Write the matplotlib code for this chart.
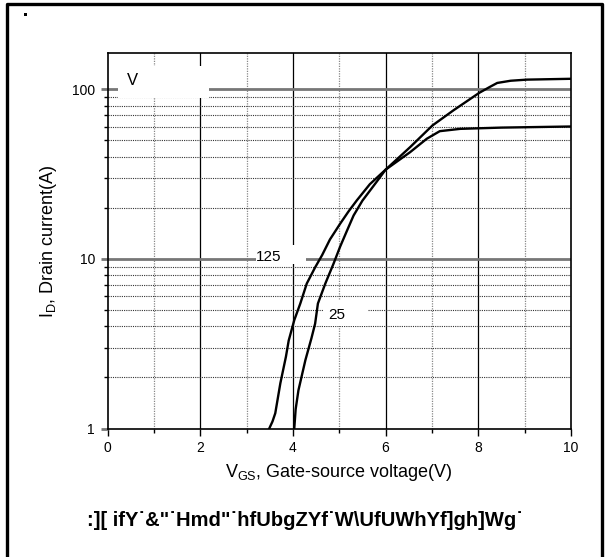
import numpy as np
import matplotlib
matplotlib.use('Agg')
import matplotlib.pyplot as plt
from matplotlib.patches import Rectangle
from matplotlib.lines import Line2D
from matplotlib.ticker import FixedLocator, NullFormatter

plt.rcParams['font.family'] = ['Liberation Sans', 'DejaVu Sans']
plt.rcParams['mathtext.fontset'] = 'custom'
plt.rcParams['mathtext.rm'] = 'Liberation Sans'
plt.rcParams['mathtext.it'] = 'Liberation Sans'

# transfer curves (Vgs in V, Id in A)
vgs_125 = [3.49, 3.56, 3.62, 3.73, 3.85, 3.91, 4.03, 4.16, 4.30, 4.48, 4.63, 4.80, 5.02, 5.20, 5.38,
           5.66, 6.00, 6.53, 6.89, 7.17, 7.61, 8.50, 10.0]
id_125 = [1.0, 1.1, 1.23, 1.85, 2.65, 3.3, 4.35, 5.45, 7.15, 8.9, 10.5, 13.0, 16.1, 19.0, 22.1,
          27.5, 33.5, 42.5, 51.0, 56.5, 58.3, 59.3, 60.2]

vgs_25 = [4.03, 4.06, 4.12, 4.27, 4.40, 4.48, 4.54, 4.70, 4.88, 5.02, 5.17, 5.31, 5.50, 5.81, 6.00,
          6.53, 7.01, 7.46, 8.02, 8.25, 8.41, 8.70, 9.05, 10.0]
id_25 = [1.0, 1.3, 1.68, 2.53, 3.4, 4.15, 5.45, 7.15, 9.4, 11.8, 14.7, 18.0, 22.0, 28.5, 33.5,
         45.5, 61.0, 74.8, 95.0, 103.0, 108.7, 112.0, 113.7, 115.0]

x_major = [0, 2, 4, 6, 8, 10]
x_minor = [1, 3, 5, 7, 9]
y_major = [1, 10, 100]
y_minor = [2, 3, 4, 5, 6, 7, 8, 9, 20, 30, 40, 50, 60, 70, 80, 90]

title_text = ':][ ifY˙&"˙Hmd"˙hfUbgZYf˙W\\UfUWhYf]gh]Wg˙'

fig = plt.figure(figsize=(6.05, 5.57), dpi=100)
ax = fig.add_axes([0.1777, 0.2307, 0.766, 0.674])

ax.set_yscale('log')
ax.set_xlim(0, 10)
ax.set_ylim(1, 163)

ax.xaxis.set_major_locator(FixedLocator(x_major))
ax.xaxis.set_minor_locator(FixedLocator(x_minor))
ax.yaxis.set_major_locator(FixedLocator(y_major))
ax.yaxis.set_minor_locator(FixedLocator(y_minor))
ax.set_xticklabels([str(v) for v in x_major])
ax.set_yticklabels([str(v) for v in y_major])
ax.yaxis.set_minor_formatter(NullFormatter())

ax.tick_params(which='major', direction='out', length=5, width=1, labelsize=10, pad=4)
ax.tick_params(which='minor', direction='out', length=3, width=1)
ax.tick_params(axis='y', which='major', width=2, color='#777777')

# grid
for v in x_major[1:-1]:
    ax.axvline(v, color='black', lw=0.9, zorder=1)
for v in x_minor:
    ax.axvline(v, color='#888888', lw=0.9, ls=(0, (1, 1)), zorder=1)
for v in y_major[1:]:
    ax.axhline(v, color='#777777', lw=2.0, zorder=1)
for v in y_minor:
    ax.axhline(v, color='#333333', lw=0.8, ls=(0, (1, 1)), zorder=1)

# white boxes behind the labels
ax.add_patch(Rectangle((0.23, 89), 1.96, 48, facecolor='white', edgecolor='none', zorder=2))
ax.add_patch(Rectangle((3.20, 9.28), 1.08, 2.72, facecolor='white', edgecolor='none', zorder=2))
ax.add_patch(Rectangle((4.65, 4.0), 0.97, 1.75, facecolor='white', edgecolor='none', zorder=2))

ax.plot(vgs_125, id_125, color='black', lw=1.7, zorder=4)
ax.plot(vgs_25, id_25, color='black', lw=1.7, zorder=4)

ax.text(0.53, 113, 'V', fontsize=12, ha='center', va='center', zorder=5)
ax.text(3.48, 10.3, '125', fontsize=11, ha='center', va='center', zorder=5)
ax.text(4.95, 4.65, '25', fontsize=11, ha='center', va='center', zorder=5)

for s in ax.spines.values():
    s.set_linewidth(1.2)
    s.set_zorder(6)

ax.set_xlabel('V$_{\\mathrm{GS}}$, Gate-source voltage(V)', fontsize=13, labelpad=5)
ax.set_ylabel('I$_{\\mathrm{D}}$, Drain current(A)', fontsize=13, labelpad=9)

fig.text(0.504, 0.066, title_text, fontsize=14.5, fontweight='bold', ha='center', va='center',
         family=['Liberation Sans Narrow', 'Liberation Sans', 'DejaVu Sans'])

# frame around the figure (no bottom edge) and the small dot
fig.add_artist(Line2D([7 / 605, 7 / 605, 602 / 605, 602 / 605], [0, 553 / 557, 553 / 557, 0],
                      transform=fig.transFigure, color='black', lw=2.4))
fig.add_artist(Rectangle((23.5 / 605, 541.5 / 557), 3 / 605, 3 / 557, transform=fig.transFigure,
                         facecolor='black', edgecolor='none'))

fig.savefig('out.png', dpi=100)
